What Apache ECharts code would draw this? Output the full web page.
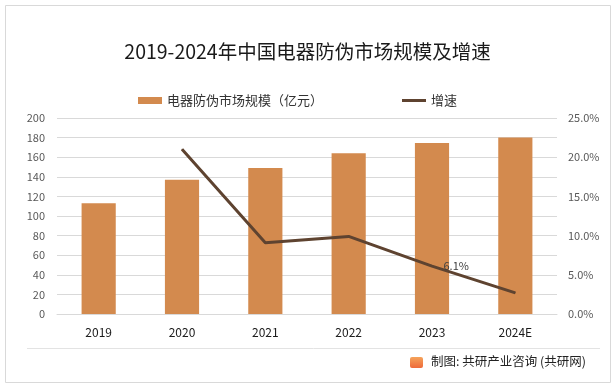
<!DOCTYPE html>
<html><head><meta charset="utf-8">
<script src="https://cdn.jsdelivr.net/npm/echarts@6/dist/echarts.min.js"></script>
<style>html,body{margin:0;padding:0;background:#fff}#c{width:615px;height:389px}</style>
</head><body><div id="c"></div>
<script>
const categories = ['2019','2020','2021','2022','2023','2024E'];
const marketSize = [113, 137, 149, 164, 174.5, 180];
const growthRate = ['-', 21.0, 9.1, 9.9, 6.1, 2.7];
const leftTicks = [0, 200, 20];
const rightTicks = [0, 25, 5];
const labeledYear = '2023';

const chart = echarts.init(document.getElementById('c'), null, {renderer:'canvas'});
const font = '"Microsoft YaHei","Noto Sans CJK SC","Noto Sans",sans-serif';
chart.setOption({
  animation:false,
  backgroundColor:'#fff',
  textStyle:{fontFamily:font},
  title:{text:'2019-2024年中国电器防伪市场规模及增速', left:'center', top:37,
    textStyle:{fontSize:19.5, fontWeight:'normal', color:'#1a1a1a', fontFamily:font}},
  legend:{left:133, top:89, itemWidth:24, itemHeight:7, itemGap:79,
    textStyle:{fontSize:13, color:'#333', fontFamily:font},
    data:[{name:'电器防伪市场规模（亿元）', icon:'rect'},{name:'增速', icon:'path://M0,0 L24,0 L24,3 L0,3 Z'}]},
  grid:{left:57, right:58, top:118, bottom:75, containLabel:false},
  xAxis:{type:'category', data:categories,
    axisLine:{show:true, lineStyle:{color:'#d9d9d9'}}, axisTick:{show:false},
    axisLabel:{color:'#1a1a1a', fontSize:12, margin:12, fontFamily:font}},
  yAxis:[
    {type:'value', min:leftTicks[0], max:leftTicks[1], interval:leftTicks[2],
     axisLine:{show:false}, axisTick:{show:false},
     axisLabel:{color:'#595959', fontSize:11, margin:12},
     splitLine:{lineStyle:{color:'#d9d9d9'}}},
    {type:'value', min:rightTicks[0], max:rightTicks[1], interval:rightTicks[2],
     axisLine:{show:false}, axisTick:{show:false},
     axisLabel:{color:'#595959', fontSize:11, margin:11, formatter:v=>v.toFixed(1)+'%'},
     splitLine:{show:false}}
  ],
  series:[
    {name:'电器防伪市场规模（亿元）', type:'bar', data:marketSize, barWidth:'41%',
     itemStyle:{color:'#D38A4E'}},
    {name:'增速', type:'line', yAxisIndex:1, data:growthRate, showSymbol:true, symbol:'circle', symbolSize:1,
     lineStyle:{color:'#5E4330', width:3}, itemStyle:{color:'#5E4330'},
     label:{show:true, position:'right', distance:11, color:'#404040', fontSize:11,
       formatter:p=> categories[p.dataIndex]===labeledYear ? p.value.toFixed(1)+'%' : ''}}
  ],
  graphic:[
    {type:'rect', shape:{x:5.5,y:5.5,width:605,height:377}, style:{fill:null, stroke:'#d9d9d9', lineWidth:1}, silent:true},
    {type:'line', shape:{x1:27,y1:348.5,x2:600,y2:348.5}, style:{stroke:'#e3e3e3', lineWidth:1}, silent:true},
    {type:'rect', shape:{x:410,y:357,width:13,height:11, r:2}, style:{fill:new echarts.graphic.LinearGradient(0,0,0,1,[{offset:0,color:'#F5A35A'},{offset:1,color:'#EE6A3A'}])}},
    {type:'text', left:431, top:355, style:{text:'制图: 共研产业咨询 (共研网)', fill:'#222', font:'12.5px '+font}}
  ]
});
</script></body></html>
